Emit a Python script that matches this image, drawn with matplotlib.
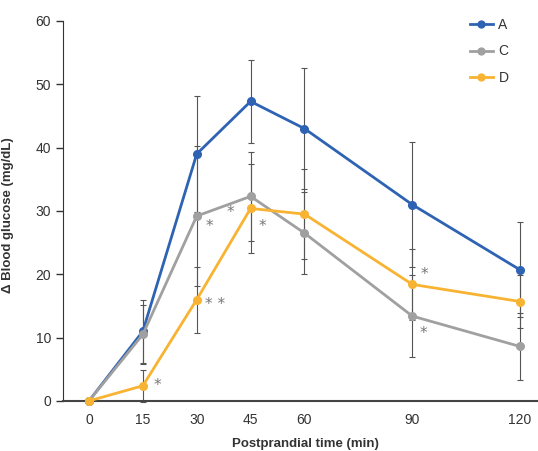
import matplotlib.pyplot as plt
import numpy as np

plt.rcParams['font.family'] = ['Liberation Sans', 'DejaVu Sans']

# data
time = [0, 15, 30, 45, 60, 90, 120]
a_mean = [0, 11.0, 39.0, 47.3, 43.0, 31.0, 20.7]
a_err = [0, 5.0, 9.1, 6.6, 9.5, 9.9, 7.5]
c_mean = [0, 10.5, 29.2, 32.3, 26.5, 13.4, 8.6]
c_err = [0, 4.6, 11.0, 7.0, 6.5, 6.5, 5.3]
d_mean = [0, 2.4, 16.0, 30.4, 29.5, 18.4, 15.7]
d_err = [0, 2.5, 5.2, 7.0, 7.1, 5.6, 4.2]

series_names = ['A', 'C', 'D']
series_colors = ['#2e63b3', '#a0a0a0', '#f8b333']

# significance marks: (x, y, text)
star_x = [19, 33.4, 39.5, 35.2, 48.2, 93.3, 93.0]
star_y = [2.4, 27.6, 29.8, 15.2, 27.6, 20.0, 10.7]
star_txt = ['*', '*', '*', '* *', '*', '*', '*']

fig = plt.figure(figsize=(5.38, 4.51), dpi=100)
ax = fig.add_axes([0.117, 0.111, 0.883, 0.8425])

means = [a_mean, c_mean, d_mean]
errs = [a_err, c_err, d_err]
for name, col, m, e in zip(series_names, series_colors, means, errs):
    ax.errorbar(time, m, yerr=e, fmt='none', ecolor='#555555', elinewidth=0.8,
                capsize=2.2, capthick=0.8, zorder=2, clip_on=False)
for name, col, m in zip(series_names, series_colors, means):
    ax.plot(time, m, color=col, lw=2.0, marker='o', ms=5.5, label=name,
            zorder=3, clip_on=False)

for x, y, t in zip(star_x, star_y, star_txt):
    ax.text(x, y, t, color='#777777', fontsize=11, ha='center', va='center',
            family='DejaVu Sans')

ax.set_xlim(-7.24, 125)
ax.set_ylim(0, 60)
ax.set_xticks(time)
ax.set_yticks(np.arange(0, 61, 10))
ax.tick_params(axis='x', length=0, pad=9, labelsize=10, labelcolor='#333333')
ax.tick_params(axis='y', length=5, width=1, color='#333333', labelsize=10,
               labelcolor='#333333')
for s in ['top', 'right']:
    ax.spines[s].set_visible(False)
ax.spines['left'].set_color('#333333')
ax.spines['bottom'].set_color('#444444')
ax.spines['bottom'].set_linewidth(1.5)

ax.set_xlabel('Postprandial time (min)', fontsize=9.5, fontweight='bold',
              color='#333333')
ax.xaxis.set_label_coords((305 - 63) / 475, -(438 - 401) / 380)
ax.set_ylabel('Δ Blood glucose (mg/dL)', fontsize=9.5, fontweight='bold',
              color='#333333')
ax.yaxis.set_label_coords(-(63 - 14) / 475, (401 - 215) / 380)

leg = ax.legend(loc='upper left', bbox_to_anchor=((470 - 63) / 475, (401 - 18) / 380),
                frameon=False, borderaxespad=0, borderpad=0,
                handlelength=1.65, labelspacing=0.9, fontsize=10,
                handletextpad=0.4, markerscale=0.9)
for t in leg.get_texts():
    t.set_color('#333333')

fig.savefig('out.png', dpi=100)
